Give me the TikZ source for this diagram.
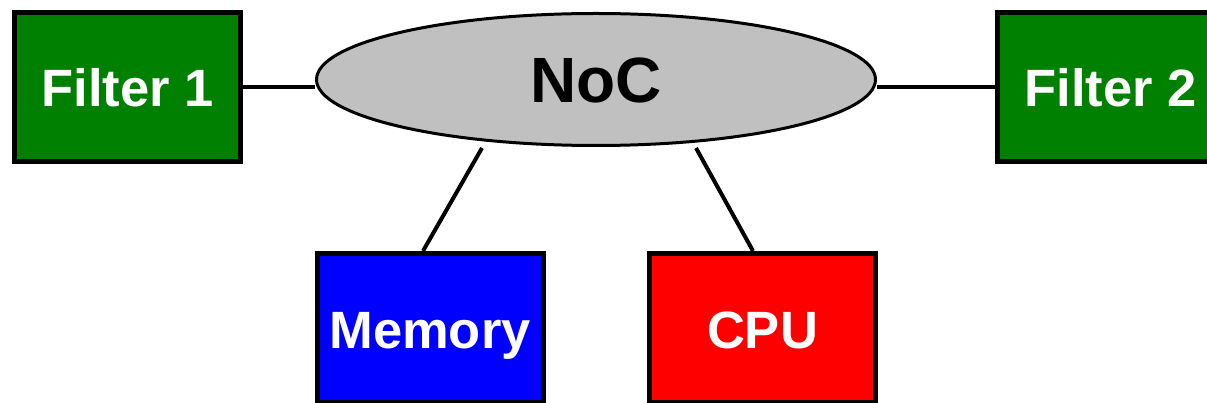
\documentclass[tikz,border=0pt]{standalone}
\usepackage{fontspec}
\setmainfont{Liberation Sans}
\usetikzlibrary{shapes.geometric}
\definecolor{boxgreen}{RGB}{0,128,0}
\definecolor{boxblue}{RGB}{0,0,255}
\definecolor{boxred}{RGB}{255,0,0}
\definecolor{nocgray}{RGB}{192,192,192}
\tikzset{
  unit/.style={draw=black, line width=5pt, rectangle, inner sep=0pt,
    minimum width=226pt, minimum height=149pt, text=white,
    font=\bfseries\fontsize{52.5}{52.5}\selectfont,
    text height=40pt, text depth=0pt},
  noc/.style={draw=black, line width=3pt, ellipse, fill=nocgray, inner sep=0pt,
    minimum width=559pt, minimum height=132pt,
    font=\bfseries\fontsize{64}{64}\selectfont,
    text height=47pt, text depth=0pt},
  link/.style={draw=black, line width=4pt}
}
\begin{document}
\begin{tikzpicture}[x=1pt,y=-1pt]
\useasboundingbox (0,0) rectangle (1207,403);
% network on chip in the middle
\node[noc] (noc) at (596,79.5) {NoC};
% attached units
\node[unit, fill=boxgreen] (f1) at (127.5,87) {Filter 1};
\node[unit, fill=boxgreen] (f2) at (1110.5,87) {Filter 2};
\node[unit, fill=boxblue] (mem) at (430,328) {Memory};
\node[unit, fill=boxred] (cpu) at (762.5,328) {CPU};
% links to the network
\coordinate (nm) at (482,148);
\coordinate (nc) at (696,148);
\draw[link] (f1.east) -- (f1.east -| noc.west);
\draw[link] (f2.west) -- (f2.west -| noc.east);
\draw[link] (nm) -- ([xshift=-7pt]mem.north);
\draw[link] (nc) -- ([xshift=-9.5pt]cpu.north);
\end{tikzpicture}
\end{document}
